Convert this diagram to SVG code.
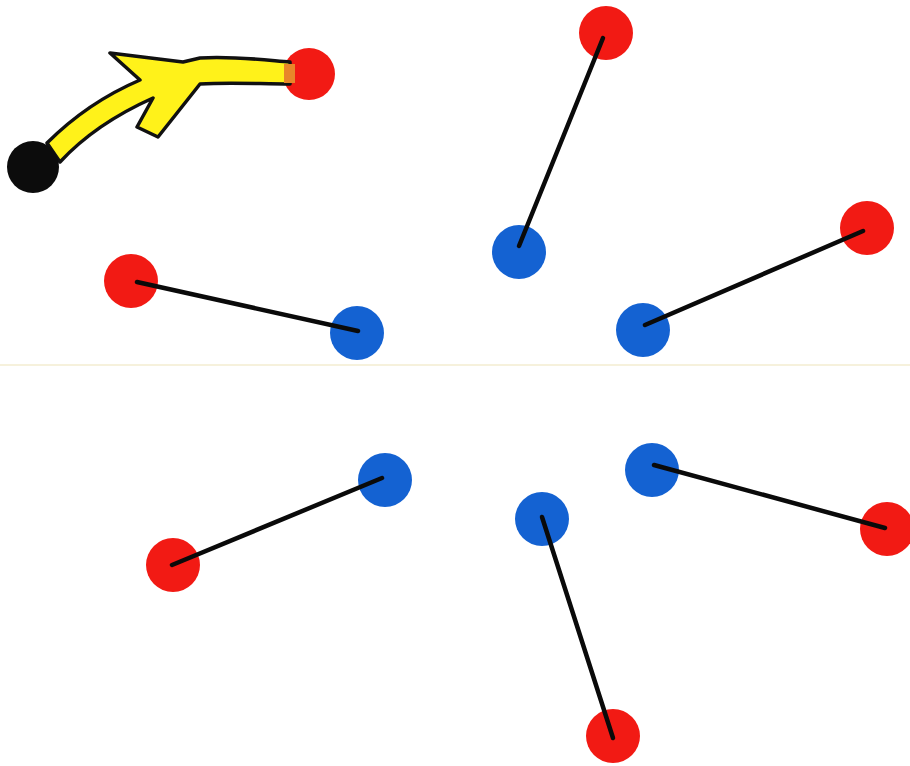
<svg xmlns="http://www.w3.org/2000/svg" width="910" height="766" viewBox="0 0 910 766">
<style>
.red{fill:#f21a14}
.blue{fill:#1462d2}
.link{stroke:#0a0a0a;stroke-width:4.5;stroke-linecap:round;fill:none}
</style>
<rect width="910" height="766" fill="#ffffff"/>
<line x1="0" y1="365" x2="910" y2="365" stroke="#f6f1dc" stroke-width="2"/>
<g id="n-red-arrow"><circle cx="309" cy="74" r="26" class="red"/></g>
<g id="arrow">
<path d="M47,143 C75,115 105,95 140,80 L110,53 L183,62 L200,58 C235,56 265,60 290,62 L290,84 C260,84 230,82 200,84 L158,137 L137,127 L153,98 C115,115 85,135 60,162 Z" fill="#fff21a" stroke="#111" stroke-width="3.5" stroke-linejoin="round"/>
<rect x="284" y="64" width="11" height="19" fill="#e8862a"/>
</g>
<g id="n-black"><circle cx="33" cy="167" r="26" fill="#0c0c0c"/></g>
<g id="n-red1"><circle cx="606" cy="33" r="27" class="red"/></g>
<g id="n-red2"><circle cx="867" cy="228" r="27" class="red"/></g>
<g id="n-red3"><circle cx="131" cy="281" r="27" class="red"/></g>
<g id="n-red4"><circle cx="173" cy="565" r="27" class="red"/></g>
<g id="n-red5"><circle cx="887" cy="529" r="27" class="red"/></g>
<g id="n-red6"><circle cx="613" cy="736" r="27" class="red"/></g>
<g id="n-blue1"><circle cx="519" cy="252" r="27" class="blue"/></g>
<g id="n-blue2"><circle cx="643" cy="330" r="27" class="blue"/></g>
<g id="n-blue3"><circle cx="357" cy="333" r="27" class="blue"/></g>
<g id="n-blue4"><circle cx="385" cy="480" r="27" class="blue"/></g>
<g id="n-blue5"><circle cx="652" cy="470" r="27" class="blue"/></g>
<g id="n-blue6"><circle cx="542" cy="519" r="27" class="blue"/></g>
<g id="connectors">
<line class="link" x1="603" y1="38" x2="519" y2="246"/>
<line class="link" x1="863" y1="231" x2="645" y2="325"/>
<line class="link" x1="137" y1="282" x2="358" y2="331"/>
<line class="link" x1="382" y1="478" x2="172" y2="565"/>
<line class="link" x1="654" y1="465" x2="885" y2="528"/>
<line class="link" x1="542" y1="517" x2="613" y2="738"/>
</g>
</svg>
